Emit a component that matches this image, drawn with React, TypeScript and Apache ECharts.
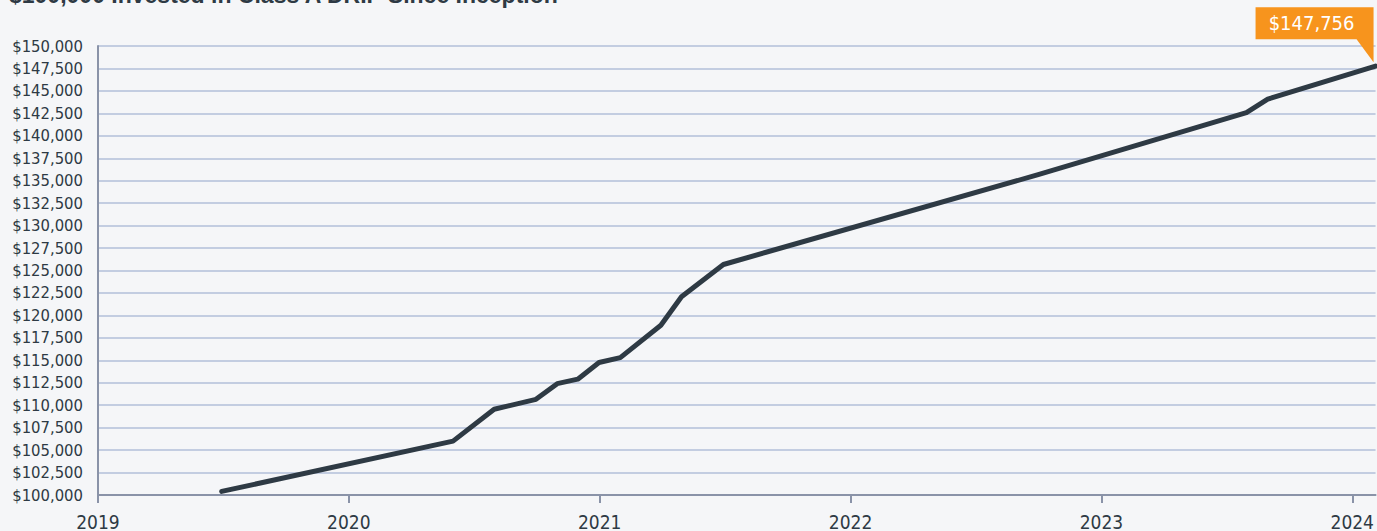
import React, { useEffect, useRef } from "react";
import * as echarts from "echarts";

const titleText = "$100,000 Invested in Class A DRIP Since Inception";
const dates = [
  "2019-06-30", "2020-06-01", "2020-07-31", "2020-09-30", "2020-10-31",
  "2020-11-30", "2020-12-31", "2021-01-31", "2021-03-31", "2021-04-30",
  "2021-06-30", "2022-10-01", "2023-07-31", "2023-08-31", "2024-02-04",
];
const values = [
  100400, 106000, 109550, 110650, 112400,
  112900, 114750, 115300, 118900, 122080,
  125670, 135670, 142590, 144080, 147756,
];
const yMin = 100000;
const yMax = 150000;
const yStep = 2500;
const xStartYear = 2019;

function toYearFrac(s: string): number {
  const [y, m, d] = s.split("-").map(Number);
  const t = Date.UTC(y, m - 1, d);
  const a = Date.UTC(y, 0, 1);
  const b = Date.UTC(y + 1, 0, 1);
  return y + (t - a) / (b - a);
}

const fmtMoney = (v: number) => "$" + Math.round(v).toLocaleString("en-US");

export default function App() {
  const ref = useRef<HTMLDivElement>(null);
  useEffect(() => {
    if (!ref.current) return;
    const chart = echarts.init(ref.current, undefined, { renderer: "svg" });
    const pts = dates.map((d, i) => [toYearFrac(d), values[i]]);
    const last = pts[pts.length - 1];
    chart.setOption({
      animation: false,
      backgroundColor: "#f5f6f8",
      graphic: [
        {
          type: "text",
          left: 9,
          top: -17,
          style: {
            text: titleText,
            font: "bold 23px 'Liberation Sans', Arial, sans-serif",
            fill: "#2e3a44",
          },
        },
      ],
      grid: { left: 98, right: 0, top: 46, bottom: 35, containLabel: false },
      xAxis: {
        type: "value",
        min: xStartYear,
        max: last[0],
        interval: 1,
        axisLine: { show: true, lineStyle: { color: "#8a93a8", width: 2 } },
        axisTick: { show: true, length: 8, lineStyle: { color: "#8a93a8", width: 2 } },
        splitLine: { show: false },
        axisLabel: {
          showMaxLabel: false,
          margin: 17,
          color: "#2e3a44",
          fontSize: 19,
          fontFamily: "'DejaVu Sans Condensed', sans-serif",
          formatter: (v: number) => (Number.isInteger(v) ? String(v) : ""),
        },
      },
      yAxis: {
        type: "value",
        min: yMin,
        max: yMax,
        interval: yStep,
        axisLine: { show: true, lineStyle: { color: "#8a93a8", width: 2 } },
        axisTick: { show: false },
        splitLine: { show: true, lineStyle: { color: "#c3cde1", width: 2 } },
        axisLabel: {
          margin: 15,
          color: "#2e3a44",
          fontSize: 16.5,
          fontFamily: "'DejaVu Sans Condensed', sans-serif",
          formatter: (v: number) => fmtMoney(v),
        },
      },
      series: [
        {
          type: "line",
          data: pts,
          showSymbol: false,
          symbol: "none",
          clip: false,
          lineStyle: { color: "#2e3a44", width: 5, cap: "round", join: "round" },
          markPoint: {
            symbol: "path://M0 0H118V55L101 32H0Z",
            symbolSize: [118, 55],
            symbolKeepAspect: false,
            symbolOffset: [-61, -31.5],
            itemStyle: { color: "#f7941d" },
            label: {
              show: true,
              position: "inside",
              offset: [-3, -11.5],
              color: "#ffffff",
              fontSize: 20,
              fontFamily: "'DejaVu Sans Condensed', sans-serif",
              formatter: () => fmtMoney(last[1]),
            },
            data: [{ coord: last }],
          },
        },
      ],
    });
    return () => chart.dispose();
  }, []);
  return (
    <div
      ref={ref}
      style={{ position: "absolute", left: 0, top: 0, width: 1377, height: 531 }}
    />
  );
}
